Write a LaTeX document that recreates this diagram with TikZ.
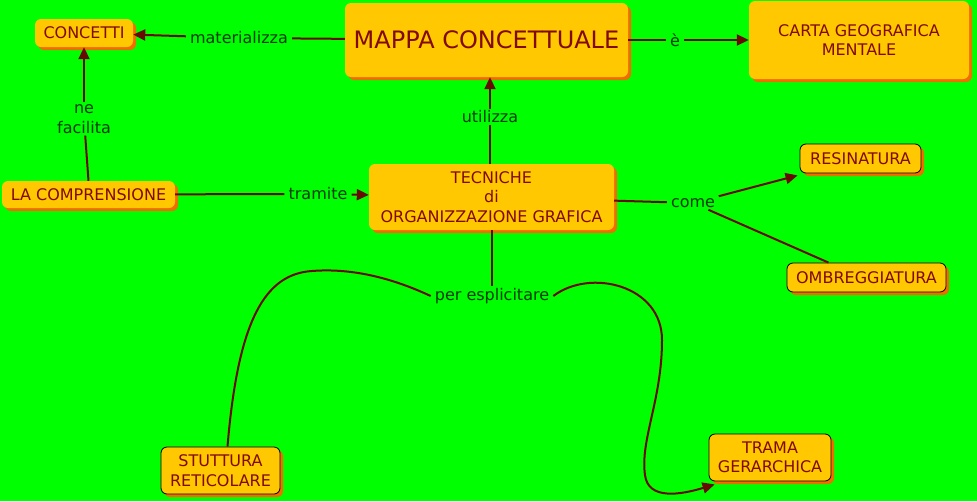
\documentclass[tikz,border=0pt]{standalone}
\usepackage{fontspec}
\setmainfont{DejaVu Sans}
\usetikzlibrary{shadows,arrows.meta}
\definecolor{bggreen}{RGB}{0,255,0}
\definecolor{boxfill}{RGB}{255,200,0}
\definecolor{shadowc}{RGB}{240,110,0}
\definecolor{boxtext}{RGB}{128,10,0}
\definecolor{linec}{RGB}{105,10,0}
\definecolor{labeltext}{RGB}{0,60,0}
\tikzset{
  cbox/.style={rectangle, rounded corners=6pt, fill=boxfill, text=boxtext,
    align=center, inner sep=0pt, font=\fontsize{16}{19.5}\selectfont,
    drop shadow={shadow xshift=3pt, shadow yshift=-3pt, fill=shadowc, opacity=1}},
  bbox/.style={cbox, draw=black, line width=0.8pt},
  lbl/.style={fill=bggreen, text=labeltext, inner xsep=4pt, inner ysep=2pt, align=center,
    font=\fontsize{16}{19.5}\selectfont},
  conn/.style={draw=linec, line width=2pt},
  arr/.style={conn, -{Triangle[length=12pt,width=11pt]}}
}
\begin{document}
\begin{tikzpicture}[x=1pt,y=-1pt]
\useasboundingbox (0,0) rectangle (977,501);
\fill[bggreen] (0,0) rectangle (977,501);

% boxes
\node[cbox, minimum width=98pt, minimum height=28pt] (concetti) at (84,33) {CONCETTI};
\node[cbox, minimum width=283pt, minimum height=74pt, font=\fontsize{24}{28}\selectfont] (mappa) at (486.5,40) {MAPPA CONCETTUALE};
\node[cbox, minimum width=220pt, minimum height=78pt] (carta) at (859,40) {CARTA GEOGRAFICA\\MENTALE};
\node[cbox, minimum width=173pt, minimum height=27pt] (compr) at (88.5,194.5) {LA COMPRENSIONE};
\node[cbox, minimum width=245pt, minimum height=66pt] (tecn) at (491.5,197) {TECNICHE\\di\\ORGANIZZAZIONE GRAFICA};
\node[bbox, minimum width=121pt, minimum height=29pt] (resin) at (860.5,158.5) {RESINATURA};
\node[bbox, minimum width=159pt, minimum height=29pt] (ombr) at (866.5,277.5) {OMBREGGIATURA};
\node[bbox, minimum width=119pt, minimum height=47pt] (stut) at (220.5,470.5) {STUTTURA\\RETICOLARE};
\node[bbox, minimum width=122pt, minimum height=47pt] (trama) at (770,457.5) {TRAMA\\GERARCHICA};

% labels
\node[lbl] (mat) at (239,38) {materializza};
\node[lbl] (e) at (675,40) {è};
\node[lbl] (util) at (490,117) {utilizza};
\node[lbl] (nef) at (84,119) {ne\\facilita};
\node[lbl] (tram) at (318,194) {tramite};
\node[lbl] (come) at (693,203) {come};
\node[lbl] (per) at (492,296) {per esplicitare};

% coordinates for ends
\coordinate (resT) at ([xshift=-2pt,yshift=-2pt]resin.south west);
\coordinate (ombT) at ([xshift=-38pt]ombr.north);
\coordinate (stT) at ([xshift=7pt]stut.north);
\coordinate (trT) at ([xshift=6pt,yshift=-3pt]trama.south west);
\coordinate (c1) at (312,271);
\coordinate (c2) at (662,340);
\coordinate (c3) at (645,475);

% connectors
\draw[conn] (mappa) -- (mat);
\draw[arr] (mat) -- (concetti);
\draw[conn] (mappa) -- (e);
\draw[arr] (e) -- (carta);
\draw[conn] (tecn.north -| util) -- (util);
\draw[arr] (util) -- (mappa.south -| util);
\draw[conn] (compr.north) -- (nef);
\draw[arr] (nef) -- (concetti.south);
\draw[conn] (compr) -- (tram);
\draw[arr] (tram) -- (tecn);
\draw[conn] (tecn) -- (come);
\draw[arr] (come) -- (resT);
\draw[conn] (come) -- (ombT);
\draw[conn] (tecn.south -| per) -- (per);
\draw[conn] (per.west) .. controls (390,277) and (350,268) .. (c1)
  .. controls (265,274) and (238,320) .. (stT);
\draw[arr] (per.east) .. controls (590,268) and (662,285) .. (c2)
  .. controls (662,400) and (640,440) .. (c3)
  .. controls (648,500) and (680,495) .. (trT);
\end{tikzpicture}
\end{document}
